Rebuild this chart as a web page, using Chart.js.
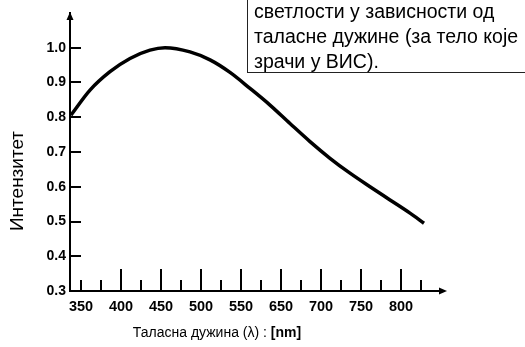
<!DOCTYPE html>
<html><head><meta charset="utf-8">
<script src="https://cdn.jsdelivr.net/npm/chart.js@4"></script>
<style>html,body{margin:0;padding:0;background:#fff}#wrap{position:relative;width:525px;height:347px}</style>
</head><body><div id="wrap"><canvas id="c" width="525" height="347"></canvas></div>
<script>
const wavelength = [337.5, 361.25, 386.25, 411.25, 436.25, 455, 486.25, 511.25, 536.25, 561.25, 586.25, 611.25, 636.25, 661.25, 686.25, 711.25, 736.25, 761.25, 778.75];
const intensity  = [0.806, 0.878, 0.931, 0.969, 0.993, 1.0, 0.988, 0.965, 0.929, 0.883, 0.835, 0.782, 0.730, 0.682, 0.639, 0.600, 0.562, 0.524, 0.495];
const xTickValues = [350, 400, 450, 500, 550, 600, 650, 700, 750];
const xTickLabels = ['350', '400', '450', '500', '550', '650', '700', '750', '800'];
const xLongTicks  = [400, 450, 500, 550, 600, 650, 700, 750];
const xShortTicks = [350, 375, 425, 475, 525, 575, 625, 675, 725, 775];
const yTickValues = [0.3, 0.4, 0.5, 0.6, 0.7, 0.8, 0.9, 1.0];
const yTickLabels = ['0.3', '0.4', '0.5', '0.6', '0.7', '0.8', '0.9', '1.0'];
const xTitle = 'Таласна дужина (λ) : ';
const xTitleUnit = '[nm]';
const yTitle = 'Интензитет';
const noteLines = ['светлости у зависности од', 'таласне дужине (за тело које', 'зрачи у ВИС).'];

const FONT = '"Liberation Sans", Arial, sans-serif';

const decor = {
  id: 'decor',
  afterDraw(chart) {
    const ctx = chart.ctx;
    const xs = chart.scales.x, ys = chart.scales.y;
    const ca = chart.chartArea;
    const y0 = ys.getPixelForValue(0.3);
    const x0 = xs.left;
    ctx.save();
    ctx.strokeStyle = '#000';
    ctx.fillStyle = '#000';
    ctx.lineWidth = 2;
    const drawX = (vals, len) => vals.forEach(v => {
      const px = Math.round(xs.getPixelForValue(v));
      ctx.beginPath(); ctx.moveTo(px, y0); ctx.lineTo(px, y0 - len); ctx.stroke();
    });
    drawX(xLongTicks, 22);
    drawX(xShortTicks, 11);
    yTickValues.slice(1).forEach(v => {
      const py = Math.round(ys.getPixelForValue(v));
      ctx.beginPath(); ctx.moveTo(x0, py); ctx.lineTo(x0 + 11, py); ctx.stroke();
    });
    ctx.beginPath();
    ctx.moveTo(ca.right + 4, y0); ctx.lineTo(ca.right - 4, y0 - 3.5); ctx.lineTo(ca.right - 4, y0 + 3.5); ctx.closePath(); ctx.fill();
    ctx.beginPath();
    ctx.moveTo(x0, ca.top - 1); ctx.lineTo(x0 - 3.5, ca.top + 7); ctx.lineTo(x0 + 3.5, ca.top + 7); ctx.closePath(); ctx.fill();
    // x title
    ctx.textBaseline = 'middle';
    ctx.font = '14px ' + FONT;
    const w1 = ctx.measureText(xTitle).width;
    ctx.font = 'bold 14px ' + FONT;
    const w2 = ctx.measureText(xTitleUnit).width;
    const cx = 217, sx = cx - (w1 + w2) / 2;
    ctx.textAlign = 'left';
    ctx.font = '14px ' + FONT;
    ctx.fillText(xTitle, sx, 333);
    ctx.font = 'bold 14px ' + FONT;
    ctx.fillText(xTitleUnit, sx + w1, 333);
    // y title
    ctx.save();
    ctx.translate(18, 181);
    ctx.rotate(-Math.PI / 2);
    ctx.textAlign = 'center';
    ctx.font = '19px ' + FONT;
    ctx.fillText(yTitle, 0, 0);
    ctx.restore();
    // note box
    ctx.lineWidth = 1;
    ctx.strokeStyle = '#222';
    ctx.strokeRect(247.5, -5, 290, 77.5);
    ctx.font = '19.5px ' + FONT;
    ctx.textAlign = 'left';
    ctx.textBaseline = 'alphabetic';
    noteLines.forEach((t, i) => ctx.fillText(t, 254, 18 + i * 25));
    ctx.restore();
  }
};

new Chart(document.getElementById('c'), {
  type: 'line',
  data: {
    datasets: [{
      data: wavelength.map((w, i) => ({ x: w, y: intensity[i] })),
      borderColor: '#000',
      borderWidth: 3.5,
      pointRadius: 0,
      tension: 0.4,
      cubicInterpolationMode: 'monotone',
      fill: false
    }]
  },
  options: {
    responsive: false,
    animation: false,
    devicePixelRatio: 1,
    layout: { padding: { left: 0, right: 82, top: 13, bottom: 0 } },
    plugins: { legend: { display: false }, tooltip: { enabled: false } },
    scales: {
      x: {
        type: 'linear', min: 336.25, max: 802.5,
        afterBuildTicks: s => { s.ticks = xTickValues.map(v => ({ value: v })); },
        afterFit: s => { s.height = 56; },
        grid: { display: false, drawTicks: false },
        border: { display: true, color: '#000', width: 2 },
        ticks: {
          autoSkip: false, maxRotation: 0, minRotation: 0, padding: 7, color: '#000',
          font: { family: FONT, size: 14.5, weight: 'bold' },
          callback: (v, i) => xTickLabels[i]
        }
      },
      y: {
        type: 'linear', min: 0.3, max: 1.1,
        afterBuildTicks: s => { s.ticks = yTickValues.map(v => ({ value: v })); },
        afterFit: s => { s.width = 70; },
        grid: { display: false, drawTicks: false },
        border: { display: true, color: '#000', width: 2 },
        ticks: {
          padding: 4, color: '#000',
          font: { family: FONT, size: 14, weight: 'bold' },
          callback: (v, i) => yTickLabels[i]
        }
      }
    }
  },
  plugins: [decor]
});
</script>
</body></html>
